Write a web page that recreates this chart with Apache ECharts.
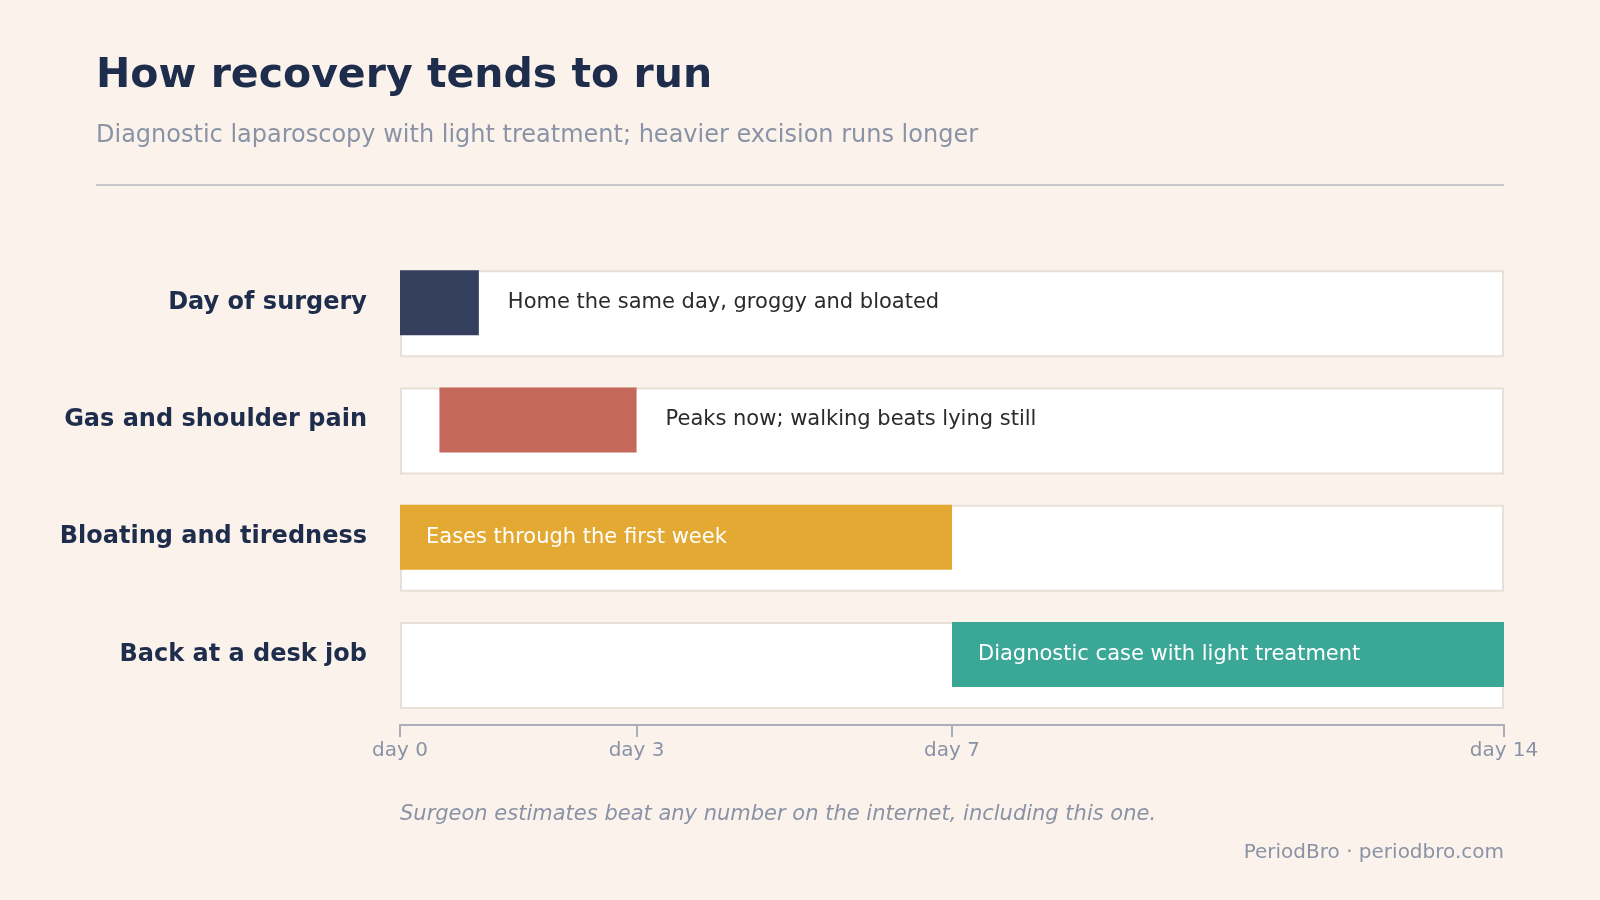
<!DOCTYPE html>
<html><head><meta charset="utf-8">
<script src="https://cdn.jsdelivr.net/npm/echarts@6/dist/echarts.min.js"></script>
<style>html,body{margin:0;padding:0;background:#fbf3eb;}#c{width:1600px;height:900px;}</style>
</head><body><div id="c"></div>
<script>
const categories = ['Day of surgery','Gas and shoulder pain','Bloating and tiredness','Back at a desk job'];
const starts = [0, 0.5, 0, 7];
const ends = [1, 3, 7, 14];
const notes = ['Home the same day, groggy and bloated','Peaks now; walking beats lying still','Eases through the first week','Diagnostic case with light treatment'];
const colors = ['#333f5c','#c4695c','#e3a932','#3ba797'];
const inside = [false,false,true,true];
const tickValues = [0,3,7,14];
const maxDay = 14;

const chart = echarts.init(document.getElementById('c'));
const font = 'DejaVu Sans';
chart.setOption({
  backgroundColor:'#fbf3eb',
  textStyle:{fontFamily:font},
  animation:false,
  graphic:[
    {type:'text',left:96,top:56,style:{text:'How recovery tends to run',font:'bold 41px "DejaVu Sans"',fill:'#1f2d4d'}},
    {type:'text',left:96,top:124,style:{text:'Diagnostic laparoscopy with light treatment; heavier excision runs longer',font:'24px "DejaVu Sans"',fill:'#8a93a6'}},
    {type:'line',shape:{x1:96,y1:185,x2:1504,y2:185},style:{stroke:'#c8c6c8',lineWidth:2}},
    {type:'text',left:400,top:804,style:{text:'Surgeon estimates beat any number on the internet, including this one.',font:'italic 21px "DejaVu Sans"',fill:'#8a93a6'}},
    {type:'text',right:96,top:843,style:{text:'PeriodBro · periodbro.com',font:'20px "DejaVu Sans"',fill:'#8a93a6',align:'right'}}
  ],
  grid:{left:400,right:96,top:244,height:469},
  xAxis:{type:'value',min:0,max:maxDay,offset:12,splitLine:{show:false},
    axisLine:{show:true,lineStyle:{color:'#a9aeb9',width:2}},
    axisTick:{show:true,length:12,inside:false,lineStyle:{color:'#a9aeb9',width:2},customValues:tickValues},
    axisLabel:{customValues:tickValues,formatter:v=>'day '+v,color:'#8a93a6',fontSize:20,margin:16}},
  yAxis:{type:'category',data:categories,inverse:true,axisLine:{show:false},axisTick:{show:false},
    axisLabel:{color:'#1f2d4d',fontSize:24,fontWeight:'bold',margin:33}},
  series:[
    {type:'bar',data:categories.map(()=>maxDay),barWidth:87,silent:true,
      itemStyle:{color:'#ffffff',borderColor:'#e8e0d6',borderWidth:2},z:1},
    {type:'bar',stack:'s',data:starts,barWidth:65,barGap:'-100%',itemStyle:{color:'transparent'},z:2},
    {type:'bar',stack:'s',barWidth:65,z:3,
      data:ends.map((e,i)=>({value:e-starts[i],itemStyle:{color:colors[i]},
        label:{show:true,formatter:notes[i],position:inside[i]?'insideLeft':'right',distance:inside[i]?26:29,
          color:inside[i]?'#ffffff':'#2a2a2a',fontSize:21}}))}
  ]
});
</script></body></html>
